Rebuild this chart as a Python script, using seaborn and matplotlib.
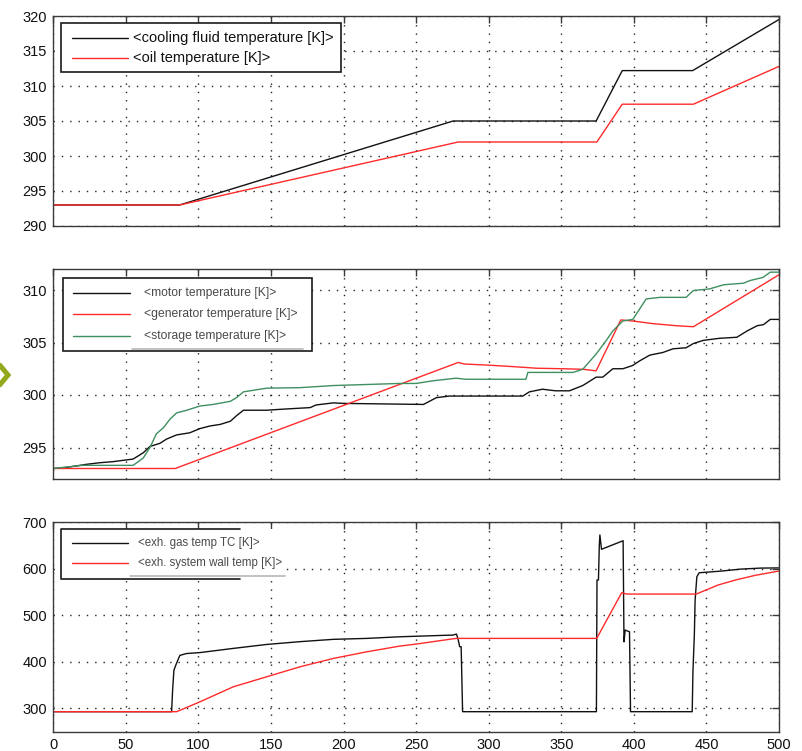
import numpy as np
import pandas as pd
import seaborn as sns
import matplotlib
matplotlib.use("Agg")
import matplotlib.pyplot as plt
from matplotlib.lines import Line2D
from matplotlib.patches import Rectangle

# ---------------- data ----------------
# top panel: cooling fluid and oil
cool_x = [0, 87, 275.5, 374, 392, 440.5, 500]
cool_y = [293, 293, 305, 305, 312.2, 312.2, 319.5]
oil_x = [0, 87, 279, 374.5, 392, 441, 500]
oil_y = [293, 293, 302, 302, 307.4, 307.4, 312.8]

# middle panel: motor, generator, storage
motor_x = [0, 9, 23, 32, 41, 55, 62, 66.6, 73.5, 78, 85, 94, 101, 108, 115, 122,
           126, 131, 147, 158, 177, 181, 193, 200, 255, 264, 273, 323.5, 328, 337,
           346, 355.6, 364.8, 374, 378.6, 385.5, 392.4, 399, 404, 411, 420, 427,
           436, 441, 447.8, 459, 471, 478, 485, 489.3, 494, 500]
motor_y = [293.0, 293.1, 293.4, 293.55, 293.65, 293.9, 294.5, 295.1, 295.4, 295.8,
           296.2, 296.4, 296.8, 297.05, 297.2, 297.5, 298.0, 298.55, 298.55, 298.65,
           298.8, 299.05, 299.25, 299.2, 299.1, 299.75, 299.9, 299.9, 300.3, 300.55,
           300.4, 300.4, 300.9, 301.7, 301.7, 302.5, 302.5, 302.8, 303.25, 303.8,
           304.05, 304.4, 304.5, 304.9, 305.2, 305.4, 305.5, 306.1, 306.6, 306.7,
           307.2, 307.2]
gen_x = [0, 84, 279, 283, 299, 317, 333, 351.5, 365, 374, 391, 399, 413, 429, 441, 500]
gen_y = [293, 293, 303.1, 302.95, 302.85, 302.7, 302.55, 302.5, 302.45, 302.3,
         307.15, 307.05, 306.8, 306.6, 306.5, 311.45]
stor_x = [0, 9, 20, 55, 62, 66.6, 71, 76, 80.4, 85, 92, 101, 110, 122, 126.3, 131,
          147, 170, 193, 238.7, 250, 261.4, 277.5, 284, 325.6, 327, 358, 364.8, 374,
          381, 385.5, 392.4, 399.3, 408.5, 418, 436, 441, 452, 462, 475.6, 480, 489,
          494, 500]
stor_y = [293.0, 293.14, 293.3, 293.3, 294.0, 295.0, 296.3, 296.9, 297.7, 298.3,
          298.55, 298.95, 299.1, 299.4, 299.75, 300.3, 300.65, 300.7, 300.9, 301.1,
          301.1, 301.35, 301.6, 301.5, 301.5, 302.15, 302.15, 302.45, 303.9, 305.2,
          306.1, 307.05, 307.2, 309.15, 309.3, 309.3, 309.95, 310.1, 310.5, 310.65,
          310.9, 311.2, 311.7, 311.7]

# bottom panel: exhaust gas and exhaust system wall
gas_x = [0, 81.5, 82.2, 83.1, 84.9, 87.2, 91.8, 101, 124, 147, 170, 193, 216, 238.7,
         275.5, 277.8, 279, 280, 281, 282, 374.2, 374.6, 375.6, 376.2, 376.6, 377.7,
         392.6, 393.2, 394, 397, 397.7, 440.2, 440.7, 441.7, 442.2, 443.4, 445, 460,
         473.6, 487.4, 500]
gas_y = [293, 293, 339, 382, 397, 414, 418, 420, 429, 437.5, 443.5, 448.5, 450.5,
         454, 457.7, 459.8, 447, 432.6, 432.6, 293, 293, 576, 576, 651, 672.8, 642,
         660.4, 443, 468.4, 464.7, 293, 293, 378.7, 461, 533, 583, 591.6, 595.1,
         599.4, 601.6, 602]
wall_x = [0, 85, 101, 124, 147, 170, 193, 216, 238.7, 250, 274, 277.8, 374.4, 391.6,
          395, 443, 458, 470, 483.6, 500]
wall_y = [293, 293, 314.2, 346.5, 368, 389.5, 407.5, 421.7, 434, 438.3, 449, 450.5,
          450.5, 548.6, 545.8, 545.8, 565.2, 576, 586, 595.3]

labels_top = ["<cooling fluid temperature [K]>", "<oil temperature [K]>"]
labels_mid = ["<motor temperature [K]>", "<generator temperature [K]>",
              "<storage temperature [K]>"]
labels_bot = ["<exh. gas temp TC [K]>", "<exh. system wall temp [K]>"]

x_ticks = list(range(0, 501, 50))
y_ticks_top = [290, 295, 300, 305, 310, 315, 320]
y_ticks_mid = [295, 300, 305, 310]
y_ticks_bot = [300, 400, 500, 600, 700]

BLACK = "#111111"
RED = "#ff2a2a"
GREEN = "#3f8f60"

# ---------------- style ----------------
sns.set_theme(style="white")
plt.rcParams["font.family"] = ["Liberation Sans", "DejaVu Sans"]
plt.rcParams["axes.edgecolor"] = "#3a3a3a"
plt.rcParams["axes.linewidth"] = 1.0

fig = plt.figure(figsize=(8.02, 7.51), dpi=100)
W, H = 802.0, 751.0
left = 53.3 / W
width = 725.7 / W


def make_axes(top_px, bottom_px):
    return fig.add_axes([left, 1 - bottom_px / H, width, (bottom_px - top_px) / H])


ax1 = make_axes(16, 226)
ax2 = make_axes(269, 479)
ax3 = make_axes(522.3, 731.7)


def long_frame(series):
    frames = []
    for name, xs, ys in series:
        frames.append(pd.DataFrame({"t": xs, "v": ys, "series": name}))
    return pd.concat(frames, ignore_index=True)


df1 = long_frame([(labels_top[0], cool_x, cool_y), (labels_top[1], oil_x, oil_y)])
df2 = long_frame([(labels_mid[0], motor_x, motor_y), (labels_mid[1], gen_x, gen_y),
                  (labels_mid[2], stor_x, stor_y)])
df3 = long_frame([(labels_bot[0], gas_x, gas_y), (labels_bot[1], wall_x, wall_y)])

pal1 = {labels_top[0]: BLACK, labels_top[1]: RED}
pal2 = {labels_mid[0]: BLACK, labels_mid[1]: RED, labels_mid[2]: GREEN}
pal3 = {labels_bot[0]: BLACK, labels_bot[1]: RED}

for ax, df, pal in [(ax1, df1, pal1), (ax2, df2, pal2), (ax3, df3, pal3)]:
    sns.lineplot(data=df, x="t", y="v", hue="series", palette=pal, sort=False,
                 estimator=None, legend=False, linewidth=1.0, ax=ax, zorder=3)


def style_axes(ax, yticks, ylim, show_x):
    ax.set_xlim(0, 500)
    ax.set_ylim(*ylim)
    ax.set_xticks(x_ticks)
    ax.set_yticks(yticks)
    ax.set_xlabel("")
    ax.set_ylabel("")
    ax.grid(True, color="#222222", linestyle=(0, (1, 5)), linewidth=1.0, zorder=1)
    ax.tick_params(direction="in", length=5, width=1.0, color="#3a3a3a",
                   top=True, right=True, labelsize=10.5, pad=4.5,
                   labelcolor="#111111")
    if not show_x:
        ax.tick_params(labelbottom=False)
    for s in ax.spines.values():
        s.set_visible(True)
        s.set_color("#3a3a3a")
        s.set_zorder(5)


style_axes(ax1, y_ticks_top, (290, 320), False)
style_axes(ax2, y_ticks_mid, (292, 312), False)
style_axes(ax3, y_ticks_bot, (250, 700), True)


def draw_legend(ax, box, white_box, entries, text_x, seg, fs, tcolor,
                underline=None, open_right=False):
    tr = ax.transAxes
    x0, y0, x1, y1 = white_box
    ax.add_patch(Rectangle((x0, y0), x1 - x0, y1 - y0, transform=tr,
                           facecolor="white", edgecolor="none", zorder=6))
    bx0, by0, bx1, by1 = box
    if open_right:
        ax.add_line(Line2D([bx1, bx0, bx0, bx1], [by1, by1, by0, by0], transform=tr,
                           color="#1a1a1a", linewidth=1.2, zorder=8))
    else:
        ax.add_patch(Rectangle((bx0, by0), bx1 - bx0, by1 - by0, transform=tr,
                               facecolor="none", edgecolor="#1a1a1a", linewidth=1.2,
                               zorder=8))
    for label, color, yy in entries:
        ax.add_line(Line2D([seg[0], seg[1]], [yy, yy], transform=tr, color=color,
                           linewidth=1.0, zorder=9))
        ax.text(text_x, yy, label, transform=tr, fontsize=fs, color=tcolor,
                va="center", ha="left", zorder=9)
    if underline is not None:
        ux0, ux1, uy = underline
        ax.add_line(Line2D([ux0, ux1], [uy, uy], transform=tr, color="#bdbdbd",
                           linewidth=1.3, zorder=9))


draw_legend(ax1, (0.0106, 0.7333, 0.3964, 0.9667), (0.0106, 0.7333, 0.3964, 0.9667),
            [(labels_top[0], BLACK, 0.8967), (labels_top[1], RED, 0.8014)],
            0.1098, (0.0262, 0.1033), 10.5, "#111111")
draw_legend(ax2, (0.0127, 0.611, 0.3561, 0.9557), (0.0127, 0.611, 0.3561, 0.9557),
            [(labels_mid[0], BLACK, 0.8871), (labels_mid[1], RED, 0.7843),
             (labels_mid[2], GREEN, 0.6824)],
            0.1254, (0.0276, 0.1057), 8.7, "#4a4a4a", underline=(0.1090, 0.3442, 0.619))
draw_legend(ax3, (0.0106, 0.7292, 0.2573, 0.968), (0.0106, 0.7380, 0.3193, 0.968),
            [(labels_bot[0], BLACK, 0.9026), (labels_bot[1], RED, 0.8042)],
            0.1163, (0.0254, 0.1033), 8.3, "#4a4a4a", underline=(0.1057, 0.3193, 0.7436),
            open_right=True)

# small chevron on the left page margin
fig.add_artist(Line2D([-2 / W, 8 / W, -2 / W],
                      [1 - 363 / H, 1 - 375 / H, 1 - 387 / H],
                      transform=fig.transFigure, color="#93a81a", linewidth=3.6,
                      solid_joinstyle="miter", solid_capstyle="butt"))

fig.savefig("out.png", dpi=100, facecolor="white")
